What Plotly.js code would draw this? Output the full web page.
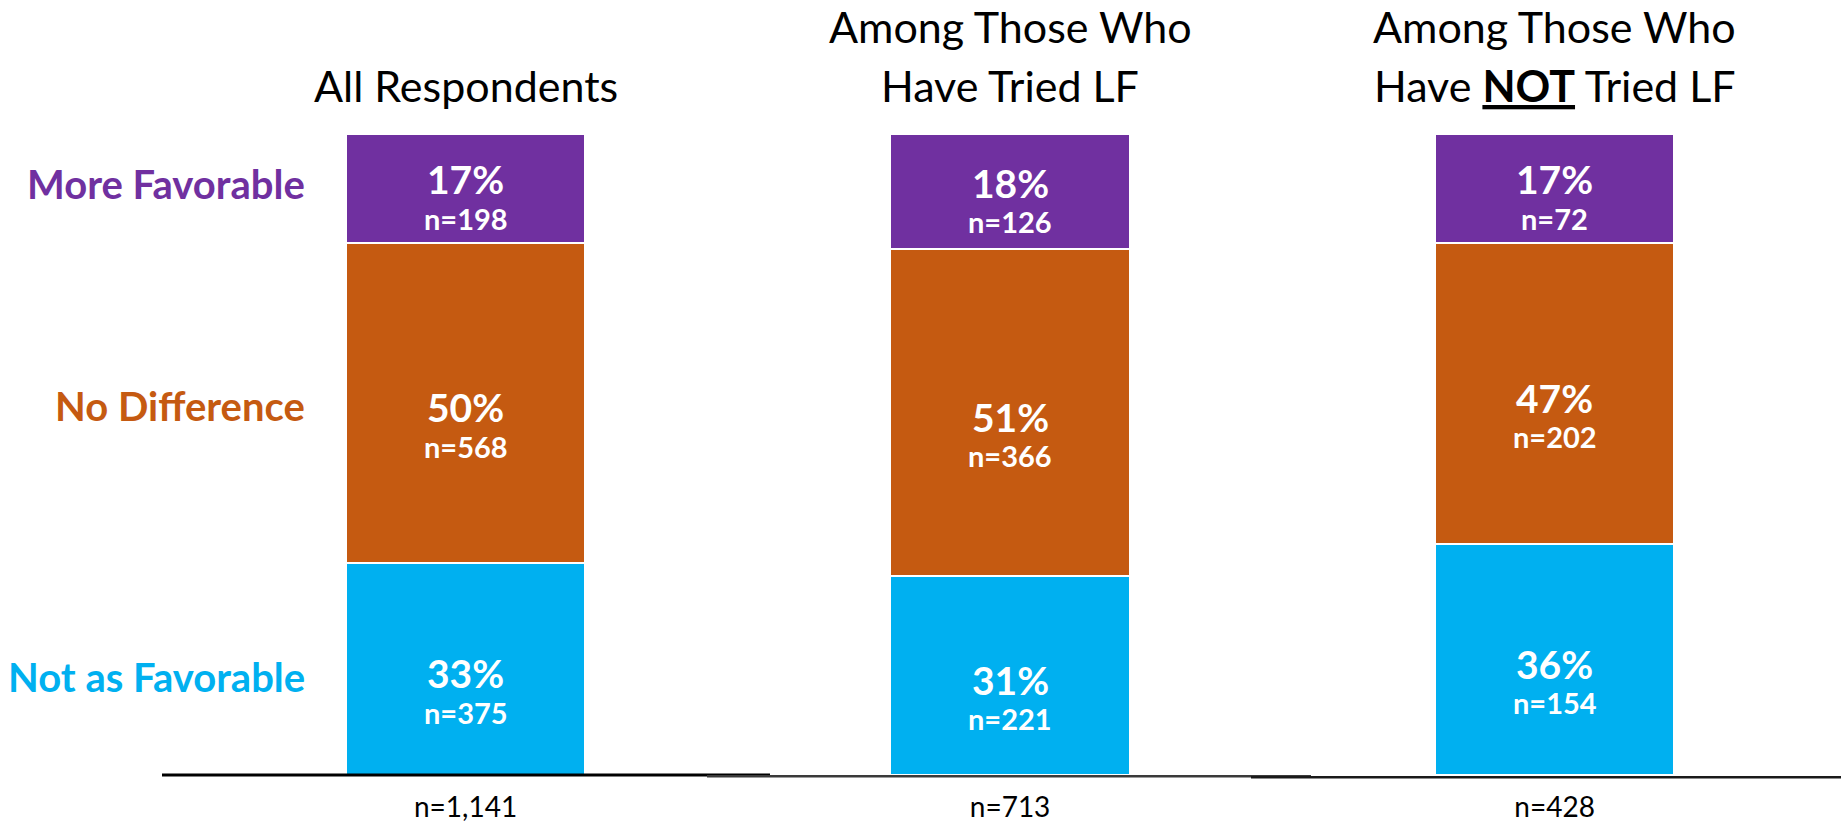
<!DOCTYPE html>
<html>
<head>
<meta charset="utf-8">
<script src="https://cdn.plot.ly/plotly-3.0.1.min.js"></script>
<style>html,body{margin:0;padding:0;background:#fff;}#chart{width:1841px;height:822px;}</style>
</head>
<body>
<div id="chart"></div>
<script>
// ---- data ----
const categories = ["All Respondents", "Among Those Who Have Tried LF", "Among Those Who Have NOT Tried LF"];
const titleLine1 = ["", "Among Those Who", "Among Those Who"];
const titleLine2 = ["All Respondents", "Have Tried LF", "Have <b><u>NOT</u></b> Tried LF"];
const totals = ["n=1,141", "n=713", "n=428"];
const seriesNames = ["Not as Favorable", "No Difference", "More Favorable"];
const notFavPct = [33, 31, 36];
const notFavN = [375, 221, 154];
const noDiffPct = [50, 51, 47];
const noDiffN = [568, 366, 202];
const moreFavPct = [17, 18, 17];
const moreFavN = [198, 126, 72];

// ---- styling ----
const colors = ["#00B0F0", "#C55A11", "#7030A0"];
const FONT = "Lato, 'Open Sans', 'Liberation Sans', Arial, sans-serif";
const pctShift = [-4, -4, 9];
const pcts = [notFavPct, noDiffPct, moreFavPct];
const ns = [notFavN, noDiffN, moreFavN];

const traces = pcts.map((p, s) => ({
  type: "bar",
  name: seriesNames[s],
  x: categories,
  y: p,
  width: 0.44,
  marker: { color: colors[s], line: { color: "#ffffff", width: 2 } },
  hoverinfo: "skip",
  showlegend: false
}));

const annotations = [];
// segment labels
categories.forEach((c, i) => {
  let base = 0;
  pcts.forEach((p, s) => {
    const mid = base + p[i] / 2;
    annotations.push({
      x: c, y: mid, xref: "x", yref: "y", showarrow: false,
      text: p[i] + "%", yshift: pctShift[s],
      font: { family: FONT, size: 39, color: "#ffffff", weight: "bold" }
    });
    annotations.push({
      x: c, y: mid, xref: "x", yref: "y", showarrow: false,
      text: "n=" + ns[s][i], yshift: pctShift[s] - 39,
      font: { family: FONT, size: 29, color: "#ffffff", weight: "bold" }
    });
    base += p[i];
  });
});
// left row labels, aligned with first column's segments
let base0 = 0;
const rowShift = [-8, -3, 4];
pcts.forEach((p, s) => {
  annotations.push({
    x: 0.167, xref: "paper", xanchor: "right", y: base0 + p[0] / 2, yref: "y",
    yshift: rowShift[s], showarrow: false, text: seriesNames[s],
    font: { family: FONT, size: 40, color: colors[s], weight: "bold" }
  });
  base0 += p[0];
});
// column titles
categories.forEach((c, i) => {
  if (titleLine1[i]) {
    annotations.push({
      x: c, xref: "x", y: 1.168, yref: "paper", yanchor: "middle", showarrow: false,
      borderpad: 0,
      text: titleLine1[i], font: { family: FONT, size: 43, color: "#000000" }
    });
  }
  annotations.push({
    x: c, xref: "x", y: 1.076, yref: "paper", yanchor: "middle", showarrow: false,
    borderpad: 0,
    text: titleLine2[i], font: { family: FONT, size: 43, color: "#000000" }
  });
});

const shapes = [
  { type: "line", xref: "paper", yref: "paper", x0: 162/1841, x1: 770/1841, y0: 0, y1: 0, line: { color: "#000000", width: 3 } },
  { type: "line", xref: "paper", yref: "paper", x0: 707/1841, x1: 1311/1841, y0: -0.002, y1: -0.002, line: { color: "#3a3a3a", width: 2.5 } },
  { type: "line", xref: "paper", yref: "paper", x0: 1251/1841, x1: 1, y0: -0.0035, y1: -0.0035, line: { color: "#1a1a1a", width: 2.5 } }
];

const layout = {
  width: 1841, height: 822,
  margin: { l: 0, r: 0, t: 134, b: 47, pad: 0 },
  paper_bgcolor: "#ffffff", plot_bgcolor: "#ffffff",
  barmode: "stack",
  xaxis: {
    type: "category", range: [-0.855, 2.526], fixedrange: true,
    showline: false, showgrid: false, zeroline: false, ticks: "",
    tickmode: "array", tickvals: categories, ticktext: totals,
    tickfont: { family: FONT, size: 28, color: "#000000" },
    ticklabelstandoff: 13
  },
  yaxis: {
    range: [0, 100], showgrid: false, zeroline: false, showline: false,
    showticklabels: false, ticks: "", fixedrange: true
  },
  annotations: annotations,
  shapes: shapes,
  font: { family: FONT }
};

Plotly.newPlot("chart", traces, layout, { displayModeBar: false, staticPlot: true });
</script>
</body>
</html>
